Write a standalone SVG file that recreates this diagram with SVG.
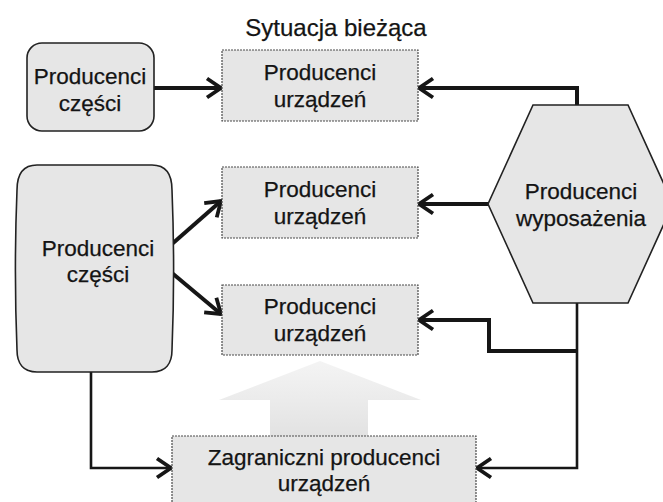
<svg xmlns="http://www.w3.org/2000/svg" width="663" height="502" viewBox="0 0 663 502">
  <style>
    .t { font-family: "Liberation Sans", Arial, sans-serif; font-size: 22.5px; fill: #141414; stroke: #141414; stroke-width: 0.25; text-anchor: middle; }
    .title { font-size: 24px; }
    .rect { fill: #e6e6e6; stroke: #4a4a4a; stroke-width: 1.2; stroke-dasharray: 2 1; }
    .soft { fill: #e6e6e6; stroke: #222; stroke-width: 1.6; }
    .c { fill: none; stroke: #161616; stroke-linejoin: miter; }
    .thick { stroke-width: 4; }
    .thin { stroke-width: 2.6; }
  </style>
  <defs>
    <marker id="open" markerUnits="userSpaceOnUse" markerWidth="22" markerHeight="24" refX="17" refY="12" orient="auto">
      <path d="M3,2.5 L17,12 L3,21.5" fill="none" stroke="#161616" stroke-width="3.8" stroke-linejoin="miter"/>
    </marker>
    <linearGradient id="fade" x1="0" y1="0" x2="0" y2="1">
      <stop offset="0" stop-color="#e6e6e6" stop-opacity="0.45"/>
      <stop offset="1" stop-color="#e2e2e2" stop-opacity="1"/>
    </linearGradient>
  </defs>

  <text class="t title" x="336" y="36">Sytuacja bieżąca</text>

  <!-- faint upward arrow between the lower boxes -->
  <g id="upArrow">
    <path d="M320,361 L421,400 L368,400 L368,436 L270,436 L270,400 L219,400 Z" fill="url(#fade)"/>
  </g>

  <g id="connectors">
    <line class="c thick" x1="154" y1="88" x2="221" y2="88" marker-end="url(#open)"/>
    <polyline class="c thick" points="577,105 577,88 419,88" marker-end="url(#open)"/>
    <line class="c thick" x1="488" y1="204" x2="419" y2="204" marker-end="url(#open)"/>
    <line class="c thick" x1="172" y1="244" x2="221" y2="201" marker-end="url(#open)"/>
    <line class="c thick" x1="172" y1="273" x2="221" y2="314" marker-end="url(#open)"/>
    <polyline class="c thin" points="577,303 577,468 477,468" marker-end="url(#open)"/>
    <polyline class="c thick" points="577,351 489,351 489,320 419,320" marker-end="url(#open)"/>
    <polyline class="c thin" points="91,372 91,468 171,468" marker-end="url(#open)"/>
  </g>

  <g id="partsSmall">
    <rect class="soft" x="27" y="43" width="127" height="88" rx="15"/>
    <text class="t" x="90" y="84">Producenci</text>
    <text class="t" x="90" y="111">części</text>
  </g>

  <g id="devices1">
    <rect class="rect" x="222" y="50" width="196" height="71"/>
    <text class="t" x="320" y="80">Producenci</text>
    <text class="t" x="320" y="107">urządzeń</text>
  </g>

  <g id="partsLarge">
    <path class="soft" d="M37,165 H152 C166,165 172,175 172,190 C174,240 174,300 172,350 C172,363 166,372 152,372 H37 C23,372 17,363 17,350 C15,300 15,240 17,190 C17,175 23,165 37,165 Z"/>
    <text class="t" x="98" y="256">Producenci</text>
    <text class="t" x="98" y="282">części</text>
  </g>

  <g id="devices2">
    <rect class="rect" x="222" y="167" width="196" height="71"/>
    <text class="t" x="320" y="197">Producenci</text>
    <text class="t" x="320" y="224">urządzeń</text>
  </g>

  <g id="devices3">
    <rect class="rect" x="222" y="285" width="196" height="70"/>
    <text class="t" x="320" y="314">Producenci</text>
    <text class="t" x="320" y="341">urządzeń</text>
  </g>

  <g id="equipment">
    <polygon class="soft" points="533,105 628,105 673,204 628,303 533,303 488,204"/>
    <text class="t" x="581" y="199">Producenci</text>
    <text class="t" x="581" y="226">wyposażenia</text>
  </g>

  <g id="foreignDevices">
    <rect class="rect" x="172" y="436" width="304" height="80"/>
    <text class="t" x="324" y="465">Zagraniczni producenci</text>
    <text class="t" x="324" y="491">urządzeń</text>
  </g>
</svg>
